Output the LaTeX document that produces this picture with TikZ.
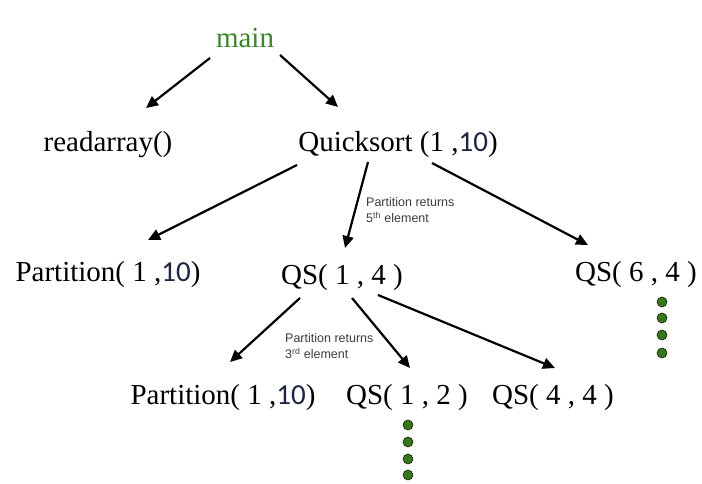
\documentclass[tikz,border=0pt]{standalone}
\usepackage{fontspec}
\setmainfont{Liberation Serif}
\newfontfamily\numfont{Carlito}
\newfontfamily\notefont{Liberation Sans}
\usetikzlibrary{arrows.meta}

\definecolor{maingreen}{RGB}{61,133,42}
\definecolor{dotgreen}{RGB}{56,118,29}
\definecolor{numblue}{RGB}{28,36,66}
\definecolor{notegray}{RGB}{60,60,60}

\tikzset{
    call/.style={inner sep=0pt,font=\fontsize{29}{32}\selectfont},
    note/.style={inner sep=0pt,align=left,text=notegray,font=\notefont\fontsize{12.5}{16}\selectfont},
    arr/.style={line width=2.2pt,-{Triangle[length=12pt,width=11pt]}},
    dot/.style={circle,draw=black!70!dotgreen,fill=dotgreen,line width=0.6pt,inner sep=0pt,minimum size=10pt}
}
\newcommand{\ten}{{\numfont\color{numblue}10}}

\begin{document}
\begin{tikzpicture}[x=1pt,y=-1pt]
\useasboundingbox (0,0) rectangle (702,484);

\node[call,text=maingreen] (main) at (245,38) {main};
\node[call] (readarray) at (108,145) {readarray()};
\node[call] (qs) at (398,145) {Quicksort (1 ,\ten)};

\node[call] (part1) at (108,275) {Partition( 1 ,\ten)};
\node[call] (qs14) at (342,278) {QS( 1 , 4 )};
\node[call] (qs64) at (636,275) {QS( 6 , 4 )};

\node[call] (part2) at (223,398) {Partition( 1 ,\ten)};
\node[call] (qs12) at (407,398) {QS( 1 , 2 )};
\node[call] (qs44) at (553,398) {QS( 4 , 4 )};

\node[note,anchor=west] (note5) at (366,210) {Partition returns\\5\textsuperscript{th} element};
\node[note,anchor=west] (note3) at (285,346) {Partition returns\\3\textsuperscript{rd} element};

\draw[arr] ([shift={(-35,20)}]main.center) -- ([shift={(38,-37)}]readarray.center);
\draw[arr] ([shift={(35,17)}]main.center) -- ([shift={(-60,-38)}]qs.center);

\draw[arr] ([shift={(-101,20)}]qs.center) -- ([shift={(40,-35)}]part1.center);
\draw[arr] ([shift={(-30,17)}]qs.center) -- ([shift={(3,-30)}]qs14.center);
\draw[arr] ([shift={(34,18)}]qs.center) -- ([shift={(-48,-30)}]qs64.center);

\draw[arr] ([shift={(-42,20)}]qs14.center) -- ([shift={(7,-36)}]part2.center);
\draw[arr] ([shift={(10,20)}]qs14.center) -- ([shift={(3,-30)}]qs12.center);
\draw[arr] ([shift={(36,17)}]qs14.center) -- ([shift={(2,-30)}]qs44.center);

% dots under the unfinished calls
\foreach \i/\y in {1/302,2/318,3/335,4/353}
    \node[dot] (dr\i) at (662,\y) {};
\foreach \i/\y in {1/425,2/442,3/459,4/475}
    \node[dot] (dl\i) at (408,\y) {};

\end{tikzpicture}
\end{document}
